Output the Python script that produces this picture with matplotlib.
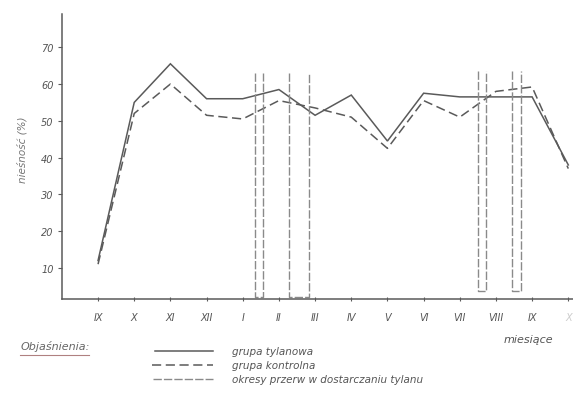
import matplotlib
matplotlib.use("Agg")
import matplotlib.pyplot as plt
from matplotlib.lines import Line2D

months = ["IX", "X", "XI", "XII", "I", "II", "III", "IV", "V", "VI", "VII", "VIII", "IX", "X"]
tylan = [12, 55, 65.5, 56, 56, 58.5, 51.5, 57, 44.5, 57.5, 56.5, 56.5, 56.5, 38]
kontrola = [11, 52, 60, 51.5, 50.5, 55.5, 53.5, 51, 42.5, 55.5, 51, 58, 59.2, 37]
# break periods (start, end in month-index units) and their height / bottom
breaks_x = [(4.34, 4.56), (5.28, 5.83), (10.51, 10.73), (11.45, 11.69)]
breaks_top = [63, 63, 63.5, 63.5]
breaks_bottom = [2.1, 2.1, 3.6, 3.6]
yticks = [10, 20, 30, 40, 50, 60, 70]

col = "#5a5a5a"
light = "#8a8a8a"

fig = plt.figure(figsize=(5.73, 4.10), dpi=100)
ax = fig.add_axes([0.108, 0.268, 0.892, 0.695])
x = list(range(len(months)))

ax.plot(x, tylan, color=col, lw=1.1, solid_joinstyle="miter")
ax.plot(x, kontrola, color=col, lw=1.1, dashes=(6, 3))

for (a, b), t, bt in zip(breaks_x, breaks_top, breaks_bottom):
    ax.plot([a, a, b, b], [t, bt, bt, t], color=light, lw=1.0, dashes=(6, 1.5))

ax.set_xlim(-1.0, 13.13)
ax.set_ylim(1.5, 79)
ax.spines["top"].set_visible(False)
ax.spines["right"].set_visible(False)
for s in ("left", "bottom"):
    ax.spines[s].set_color(col)
    ax.spines[s].set_linewidth(1.1)

ax.set_yticks(yticks)
ax.set_yticklabels([str(v) for v in yticks], fontsize=7, style="italic", color="#555555")
ax.set_xticks(x)
ax.set_xticklabels(months, fontsize=7, style="italic", color="#555555")
ax.get_xticklabels()[-1].set_color("#cccccc")
ax.tick_params(axis="y", length=3, color=col, pad=3)
ax.tick_params(axis="x", length=3, direction="inout", color=col, pad=8)

fig.text(0.038, 0.635, "nieśność (%)", rotation=90, fontsize=7.5, style="italic",
         color="#777777", ha="center", va="center")
fig.text(0.922, 0.171, "miesiące", fontsize=8, style="italic", color="#555555",
         ha="center", va="center")

fig.text(0.035, 0.154, "Objaśnienia:", fontsize=8, style="italic", color="#666666",
         ha="left", va="center")
fig.add_artist(Line2D([0.035, 0.155], [0.132, 0.132], color="#b08080", lw=0.8))

leg_y = [0.141, 0.107, 0.073]
leg_txt = ["grupa tylanowa", "grupa kontrolna", "okresy przerw w dostarczaniu tylanu"]
fig.add_artist(Line2D([0.270, 0.372], [leg_y[0]] * 2, color=col, lw=1.1))
fig.add_artist(Line2D([0.265, 0.372], [leg_y[1]] * 2, color=col, lw=1.1, dashes=(6, 3)))
fig.add_artist(Line2D([0.267, 0.372], [leg_y[2]] * 2, color=light, lw=1.0, dashes=(6, 1.5)))
for yy, t in zip(leg_y, leg_txt):
    fig.text(0.405, yy, t, fontsize=7.5, style="italic", color="#555555",
             ha="left", va="center")

fig.savefig("out.png", dpi=100, facecolor="white")
